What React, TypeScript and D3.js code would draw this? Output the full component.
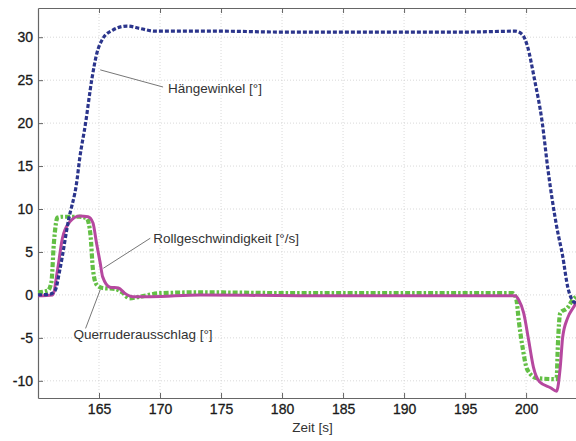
import React, { useEffect, useRef } from 'react';
import * as d3 from 'd3';

// Hängewinkel [°] (blue dotted)
const bankTime = [160.0, 161.0, 161.4, 161.8, 162.5, 163.2, 163.4, 163.9, 164.4, 164.8, 165.3, 166.1, 167.3, 168.4, 169.6, 175, 180, 185, 190, 195, 199.1, 199.7, 200.1, 200.7, 201.3, 201.8, 202.5, 203.0, 203.4, 203.9, 204.5];
const bankValue = [0.0, 0.1, 0.5, 3.0, 8.7, 13.4, 15.7, 20.0, 25.0, 28.0, 29.8, 30.8, 31.3, 31.0, 30.7, 30.7, 30.6, 30.6, 30.6, 30.6, 30.7, 30.3, 29.0, 25.0, 20.3, 14.5, 8.0, 4.5, 1.0, -0.8, -1.2];

// Rollgeschwindigkeit [°/s] (magenta solid)
const rollTime = [160.0, 161.2, 161.6, 162.0, 162.6, 163.4, 164.1, 164.5, 164.8, 165.1, 165.3, 165.9, 166.6, 167.1, 167.8, 169.2, 173.3, 181.5, 189.7, 199.1, 199.4, 199.8, 200.2, 200.6, 201.1, 202.0, 202.5, 202.8, 203.0, 203.4, 203.9, 204.5];
const rollValue = [-0.1, 0.0, 2.9, 6.6, 8.5, 9.2, 9.1, 8.4, 6.0, 3.7, 2.1, 0.9, 0.8, 0.2, -0.2, -0.2, 0.0, -0.1, -0.1, -0.1, -0.6, -2.1, -5.2, -8.4, -10.1, -10.8, -11.2, -8.4, -4.9, -2.7, -1.4, 0.0];

// Querruderausschlag [°] (green dash-dot)
const aileronTime = [160.0, 160.8, 161.1, 161.3, 161.6, 162.0, 163.4, 164.0, 164.3, 164.5, 164.8, 165.3, 166.3, 166.9, 167.5, 168.4, 170.0, 173.3, 181.5, 189.7, 198.9, 199.2, 199.4, 199.7, 200.1, 200.9, 202.5, 202.6, 202.8, 203.4, 203.8, 204.3, 204.5];
const aileronValue = [0.3, 0.5, 1.5, 6.0, 9.0, 9.1, 9.1, 8.9, 7.0, 3.0, 1.2, 0.8, 0.7, 0.3, -0.4, -0.2, 0.2, 0.3, 0.2, 0.2, 0.2, -0.5, -3.0, -6.0, -8.7, -9.7, -9.8, -6.0, -2.1, -1.5, -0.6, 0.0, 0.2];

const xTicks = [165, 170, 175, 180, 185, 190, 195, 200];
const yTicks = [-10, -5, 0, 5, 10, 15, 20, 25, 30];
const xLabel = 'Zeit [s]';
// leader line from a point on the curve to the label anchor; text offset in px
const annotations = [
  { text: 'Hängewinkel [°]', at: [165.1, 26.2], label: [170.25, 24.2], dx: 5, dy: 6 },
  { text: 'Rollgeschwindigkeit [°/s]', at: [165.35, 3.1], label: [169.2, 6.6], dx: 3, dy: 5 },
  { text: 'Querruderausschlag [°]', at: [165.1, 0.6], label: [163.9, -3.9], dx: -12, dy: 11 },
];

const W = 576;
const H = 441;
const font = 'Liberation Sans, Arial, sans-serif';

const App = () => {
  const svgRef = useRef<SVGSVGElement>(null);

  useEffect(() => {
    const svg = d3.select(svgRef.current);
    svg.selectAll('*').remove();

    const x = d3.scaleLinear().domain([160, 204.5]).range([38, 581]);
    const y = d3.scaleLinear().domain([-12, 33.4]).range([398, 8]);

    svg.append('rect').attr('width', W).attr('height', H).attr('fill', '#fff');

    // grid
    const grid = svg.append('g');
    grid.selectAll('.gx').data(xTicks).enter().append('line')
      .attr('x1', d => x(d)).attr('x2', d => x(d))
      .attr('y1', y.range()[1]).attr('y2', y.range()[0])
      .attr('stroke', '#cfcfcf').attr('stroke-width', 0.8).attr('stroke-dasharray', '1 2');
    grid.selectAll('.gy').data(yTicks).enter().append('line')
      .attr('x1', x.range()[0]).attr('x2', x.range()[1])
      .attr('y1', d => y(d)).attr('y2', d => y(d))
      .attr('stroke', '#cfcfcf').attr('stroke-width', 0.8).attr('stroke-dasharray', '1 2');

    // frame with inward ticks
    const axisColor = '#666';
    const fmt = (d: d3.NumberValue) => String(d);
    const styleText = (g: any) => g.selectAll('.tick text')
      .attr('font-family', font).attr('font-size', 14).attr('fill', '#1a1a1a')
      .attr('stroke', '#1a1a1a').attr('stroke-width', 0.3);
    svg.append('g').attr('transform', `translate(0,${y.range()[0]})`)
      .call(d3.axisBottom(x).tickValues(xTicks).tickFormat(fmt).tickSizeInner(-5).tickSizeOuter(0).tickPadding(6))
      .call(g => g.select('.domain').attr('stroke', axisColor).attr('stroke-width', 1.2))
      .call(g => g.selectAll('.tick line').attr('stroke', axisColor))
      .call(styleText);
    svg.append('g').attr('transform', `translate(0,${y.range()[1]})`)
      .call(d3.axisTop(x).tickValues(xTicks).tickSizeInner(-5).tickSizeOuter(0).tickFormat(() => ''))
      .call(g => g.select('.domain').attr('stroke', axisColor).attr('stroke-width', 1))
      .call(g => g.selectAll('.tick line').attr('stroke', axisColor));
    svg.append('g').attr('transform', `translate(${x.range()[0]},0)`)
      .call(d3.axisLeft(y).tickValues(yTicks).tickFormat(fmt).tickSizeInner(-5).tickSizeOuter(0).tickPadding(5))
      .call(g => g.select('.domain').attr('stroke', axisColor).attr('stroke-width', 1.2))
      .call(g => g.selectAll('.tick line').attr('stroke', axisColor))
      .call(styleText);

    svg.append('text')
      .attr('x', (x(180) + x(185)) / 2).attr('y', 432)
      .attr('text-anchor', 'middle')
      .attr('font-family', font).attr('font-size', 13.5).attr('fill', '#333')
      .text(xLabel);

    // series
    const plot = svg.append('g');
    const line = d3.line<[number, number]>()
      .x(d => x(d[0])).y(d => y(d[1]))
      .curve(d3.curveMonotoneX);

    const bank = bankTime.map((t, i) => [t, bankValue[i]] as [number, number]);
    const roll = rollTime.map((t, i) => [t, rollValue[i]] as [number, number]);
    const aileron = aileronTime.map((t, i) => [t, aileronValue[i]] as [number, number]);

    plot.append('path').attr('d', line(aileron))
      .attr('fill', 'none').attr('stroke', '#63bf45').attr('stroke-width', 4.2)
      .attr('stroke-dasharray', '5 2 2.5 2');
    plot.append('path').attr('d', line(roll))
      .attr('fill', 'none').attr('stroke', '#b6489f').attr('stroke-width', 3)
      .attr('stroke-linejoin', 'round');
    plot.append('path').attr('d', line(bank))
      .attr('fill', 'none').attr('stroke', '#2b358c').attr('stroke-width', 3.2)
      .attr('stroke-dasharray', '4 2');

    // annotations
    const ann = svg.append('g');
    annotations.forEach(a => {
      ann.append('line')
        .attr('x1', x(a.at[0])).attr('y1', y(a.at[1]))
        .attr('x2', x(a.label[0])).attr('y2', y(a.label[1]))
        .attr('stroke', '#777').attr('stroke-width', 1);
      ann.append('text')
        .attr('x', x(a.label[0]) + a.dx).attr('y', y(a.label[1]) + a.dy)
        .attr('font-family', font).attr('font-size', 13.5).attr('fill', '#333')
        .text(a.text);
    });
  }, []);

  return (
    <svg ref={svgRef} width={W} height={H}
      style={{ position: 'absolute', left: 0, top: 0, overflow: 'hidden' }} />
  );
};

export default App;
